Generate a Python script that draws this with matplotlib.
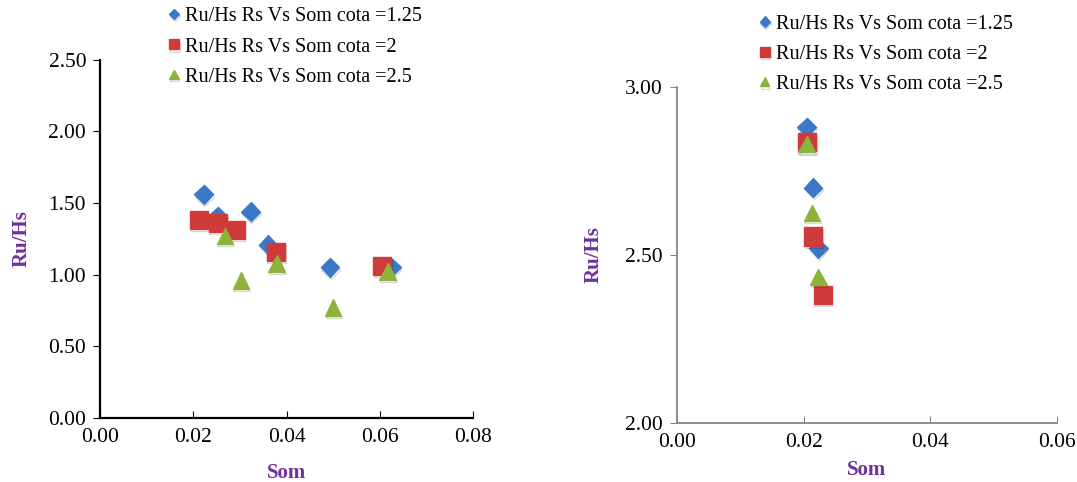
import matplotlib
matplotlib.use("Agg")
from matplotlib import pyplot as plt
import matplotlib.patheffects as pe

plt.rcParams['font.family'] = ['Liberation Serif', 'DejaVu Serif']

# left chart data (Som, Ru/Hs)
left_som_125 = [0.0222, 0.0252, 0.0323, 0.0360, 0.0493, 0.0625]
left_ru_125 = [1.56, 1.41, 1.44, 1.21, 1.05, 1.05]
left_som_2 = [0.0212, 0.0252, 0.0291, 0.0377, 0.0605]
left_ru_2 = [1.38, 1.36, 1.31, 1.16, 1.06]
left_som_25 = [0.0268, 0.0302, 0.0379, 0.0500, 0.0617]
left_ru_25 = [1.27, 0.96, 1.08, 0.77, 1.02]

# right chart data
right_som_125 = [0.0205, 0.0215, 0.0223]
right_ru_125 = [2.88, 2.70, 2.52]
right_som_2 = [0.0205, 0.0215, 0.0230]
right_ru_2 = [2.835, 2.555, 2.38]
right_som_25 = [0.0205, 0.0213, 0.0223]
right_ru_25 = [2.83, 2.625, 2.435]

labels = ["Ru/Hs Rs Vs Som cota =1.25", "Ru/Hs Rs Vs Som cota =2", "Ru/Hs Rs Vs Som cota =2.5"]
colors = ["#3B78C8", "#D03A3A", "#8CB43A"]
purple = "#7030A0"

shadow = [pe.SimpleLineShadow(offset=(0.5, -1.5), alpha=0.15, shadow_color="black"), pe.Normal()]

fig = plt.figure(figsize=(10.77, 4.82), dpi=100)
ax1 = fig.add_axes([0.0929, 0.133, 0.3463, 0.743])
ax2 = fig.add_axes([0.6286, 0.1224, 0.3528, 0.6971])


def draw(ax, xs, ys, spine_color, xlim, ylim, xticks, yticks, legend_xy, ylabelpad, xlabelpad):
    hs = []
    for (x, y), c, m, ms, lab in zip(zip(xs, ys), colors, ["D", "s", "^"], [9.5, 13, 12], labels):
        h, = ax.plot(x, y, linestyle="none", marker=m, markersize=ms, color=c,
                     markeredgecolor=c, label=lab, path_effects=shadow)
        hs.append(h)
    ax.set_xlim(*xlim)
    ax.set_ylim(*ylim)
    ax.set_xticks(xticks)
    ax.set_yticks(yticks)
    ax.set_xticklabels(["%.2f" % v for v in xticks])
    ax.set_yticklabels(["%.2f" % v for v in yticks])
    for s in ["top", "right"]:
        ax.spines[s].set_visible(False)
    for s in ["left", "bottom"]:
        ax.spines[s].set_color(spine_color)
        ax.spines[s].set_linewidth(1.6 if spine_color == "black" else 1.3)
    ax.tick_params(axis="x", direction="in", length=5, color=spine_color, labelsize=15.5, pad=7)
    ax.tick_params(axis="y", direction="out", length=5, color=spine_color, labelsize=15.5, pad=5)
    ax.set_xlabel("Som", color=purple, fontweight="bold", fontsize=15, labelpad=xlabelpad)
    ax.set_ylabel("Ru/Hs", color=purple, fontweight="bold", fontsize=15, labelpad=ylabelpad)
    leg = fig.legend(handles=hs, loc="upper left", bbox_to_anchor=legend_xy, frameon=False,
                     fontsize=14.5, handlelength=0.6, handletextpad=0.25, labelspacing=0.55,
                     markerscale=0.55, borderaxespad=0, borderpad=0)
    return leg


draw(ax1, [left_som_125, left_som_2, left_som_25], [left_ru_125, left_ru_2, left_ru_25],
     "black", (0, 0.08), (0, 2.5), [0, 0.02, 0.04, 0.06, 0.08],
     [0, 0.5, 1.0, 1.5, 2.0, 2.5], (0.156, 0.985), 12, 12)
draw(ax2, [right_som_125, right_som_2, right_som_25], [right_ru_125, right_ru_2, right_ru_25],
     "#868686", (0, 0.06), (2.0, 3.0), [0, 0.02, 0.04, 0.06],
     [2.0, 2.5, 3.0], (0.7045, 0.97), 16, 6)

fig.savefig("out.png", dpi=100)
